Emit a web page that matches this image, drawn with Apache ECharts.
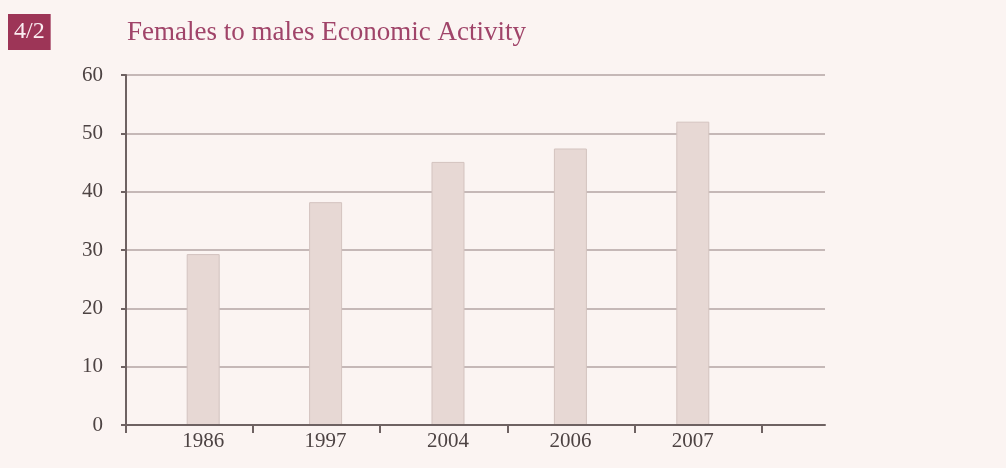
<!DOCTYPE html>
<html>
<head>
<meta charset="utf-8">
<script src="https://cdn.jsdelivr.net/npm/echarts@6/dist/echarts.min.js"></script>
<style>
  html, body { margin: 0; padding: 0; background: #fbf4f2; }
  #chart { width: 1006px; height: 468px; }
</style>
</head>
<body>
<div id="chart"></div>
<script>
const years = ['1986', '1997', '2004', '2006', '2007'];
const ratios = [29.3, 38.2, 45.1, 47.4, 52.0];
const yTicks = { min: 0, max: 60, step: 10 };

const serif = '"Liberation Serif", "DejaVu Serif", serif';
const axisColor = '#6e6262';
const gridColor = '#b3a4a3';

const chart = echarts.init(document.getElementById('chart'));

chart.setOption({
    backgroundColor: '#fbf4f2',
    title: [
        {
            text: '4/2',
            left: 8,
            top: 14,
            padding: [6, 6, 6, 6],
            backgroundColor: '#9d3557',
            textStyle: { color: '#fbeef2', fontFamily: serif, fontSize: 24, fontWeight: 'normal' }
        },
        {
            text: 'Females to males Economic Activity',
            left: 122,
            top: 14,
            textStyle: { color: '#a04469', fontFamily: serif, fontSize: 27, fontWeight: 'normal' }
        }
    ],
    grid: [
        // frame: axis lines, ticks and grid lines
        { left: 126, right: 181, top: 75, bottom: 43 },
        // bars and year labels
        { left: 142, right: 252, top: 75, bottom: 43 }
    ],
    xAxis: [
        {
            type: 'value',
            gridIndex: 0,
            min: 0,
            max: 5.5,
            interval: 1,
            z: 3,
            axisLine: { show: true, lineStyle: { color: axisColor, width: 2 } },
            axisTick: {
                show: true,
                length: 8,
                customValues: [0, 1, 2, 3, 4, 5],
                lineStyle: { color: axisColor, width: 2 }
            },
            axisLabel: { show: false },
            splitLine: { show: false }
        },
        {
            type: 'category',
            gridIndex: 1,
            data: years,
            axisLine: { show: false },
            axisTick: { show: false },
            axisLabel: { color: '#4d4343', fontFamily: serif, fontSize: 21, margin: 6 }
        }
    ],
    yAxis: [
        {
            type: 'value',
            gridIndex: 0,
            min: yTicks.min,
            max: yTicks.max,
            interval: yTicks.step,
            axisLine: { show: true, lineStyle: { color: axisColor, width: 2 } },
            axisTick: { show: true, length: 5, lineStyle: { color: axisColor, width: 2 } },
            axisLabel: { color: '#4d4343', fontFamily: serif, fontSize: 21, margin: 23 },
            splitLine: { show: true, lineStyle: { color: gridColor, width: 1.5 } }
        },
        {
            type: 'value',
            gridIndex: 1,
            min: yTicks.min,
            max: yTicks.max,
            interval: yTicks.step,
            show: false
        }
    ],
    series: [
        {
            type: 'bar',
            xAxisIndex: 1,
            yAxisIndex: 1,
            data: ratios,
            barWidth: 33,
            itemStyle: { color: '#e7d8d4', borderColor: '#d3c3bf', borderWidth: 1 },
            silent: true
        }
    ],
    animation: false
});
</script>
</body>
</html>
